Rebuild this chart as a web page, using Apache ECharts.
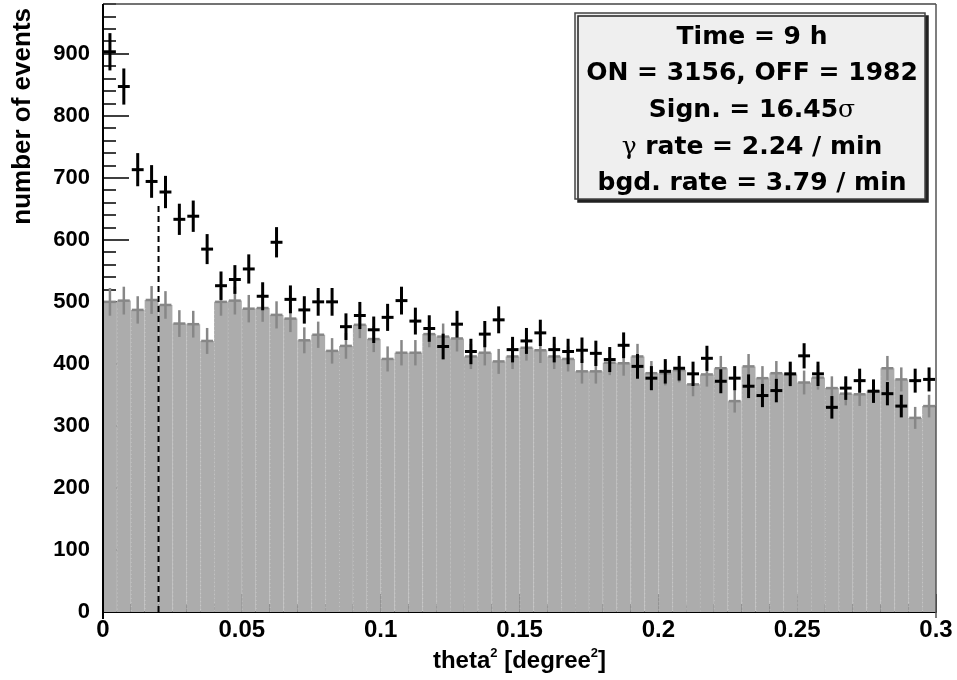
<!DOCTYPE html>
<html>
<head>
<meta charset="utf-8">
<script src="https://cdn.jsdelivr.net/npm/echarts@6/dist/echarts.min.js"></script>
<style>
  html, body { margin: 0; padding: 0; background: #ffffff; }
  #chart { width: 957px; height: 680px; }
</style>
</head>
<body>
<div id="chart"></div>
<script>
// theta^2 binning: 60 bins of 0.005 deg^2 starting at 0
const binWidth = 0.005;
const binStart = 0;

// ON-source event counts per bin
const onCounts = [
  903, 847, 713, 694, 677, 633, 638, 585, 526, 536,
  553, 509, 596, 504, 487, 500, 500, 460, 478, 455,
  475, 502, 469, 457, 428, 464, 420, 448, 471, 423,
  437, 450, 423, 420, 422, 417, 407, 430, 396, 377,
  388, 393, 384, 409, 372, 377, 364, 349, 357, 384,
  413, 384, 330, 361, 373, 356, 352, 332, 373, 375
];

// OFF (background) event counts per bin
const offCounts = [
  500, 502, 487, 503, 495, 465, 464, 437, 500, 502,
  489, 490, 479, 473, 438, 447, 421, 429, 463, 440,
  408, 418, 418, 448, 444, 441, 412, 418, 404, 412,
  426, 422, 412, 408, 388, 388, 402, 401, 412, 385,
  385, 390, 367, 383, 393, 340, 396, 377, 385, 383,
  370, 378, 361, 352, 351, 356, 393, 375, 313, 332
];

// theta^2 cut and the height of its marker line
const cutValue = 0.02;
const cutHeight = 655;

// axis ranges
const xMax = 0.3;
const yMax = 980;

// summary box lines
const infoLines = [
  'Time = 9 h',
  'ON = 3156, OFF = 1982',
  'Sign. = 16.45{sym|σ}',
  '{sym|γ} rate = 2.24 / min',
  'bgd. rate = 3.79 / min'
];

const LABEL_FONT = 'Liberation Sans';
const BOX_FONT = 'DejaVu Sans';

function binRows(counts) {
  return counts.map((c, i) => [
    binStart + i * binWidth,
    binStart + (i + 1) * binWidth,
    c,
    Math.sqrt(c)
  ]);
}

function renderFill(params, api) {
  const top = api.coord([api.value(0), api.value(2)]);
  const bot = api.coord([api.value(1), 0]);
  return {
    type: 'group',
    children: [
      {
        type: 'rect',
        shape: { x: top[0], y: top[1], width: bot[0] - top[0], height: bot[1] - top[1] },
        style: { fill: '#acacac' }
      },
      {
        type: 'line',
        shape: { x1: top[0] + 0.5, y1: top[1] + 8, x2: top[0] + 0.5, y2: bot[1] },
        style: { stroke: 'rgba(255,255,255,0.28)', lineWidth: 1, lineDash: [1, 3] }
      }
    ]
  };
}

function crossRenderer(color, width) {
  return function (params, api) {
    const x0 = api.value(0), x1 = api.value(1), v = api.value(2), e = api.value(3);
    const L = api.coord([x0, v]);
    const R = api.coord([x1, v]);
    const T = api.coord([(x0 + x1) / 2, v + e]);
    const B = api.coord([(x0 + x1) / 2, v - e]);
    return {
      type: 'group',
      children: [
        { type: 'line', shape: { x1: L[0] + 1, y1: L[1], x2: R[0] - 1, y2: R[1] },
          style: { stroke: color, lineWidth: width } },
        { type: 'line', shape: { x1: T[0], y1: T[1], x2: B[0], y2: B[1] },
          style: { stroke: color, lineWidth: width } }
      ]
    };
  };
}

const chart = echarts.init(document.getElementById('chart'), null, { renderer: 'canvas' });

const boxX = 575, boxY = 13, boxW = 350, boxH = 186;
const infoGraphics = infoLines.map((t, i) => ({
  type: 'text',
  x: boxX + boxW / 2 + 2,
  y: 37 + i * 36.7,
  z: 102,
  style: {
    text: t,
    fontFamily: BOX_FONT,
    fontWeight: 'bold',
    fontSize: 25,
    fill: '#000',
    textAlign: 'center',
    textVerticalAlign: 'middle',
    rich: {
      sym: { fontFamily: 'DejaVu Serif', fontWeight: 'normal', fontSize: 25, fill: '#000' }
    }
  }
}));

const tickStyle = { color: '#000', width: 1.5 };

chart.setOption({
  animation: false,
  backgroundColor: '#ffffff',
  grid: { left: 103, right: 21, top: 4, bottom: 62, containLabel: false },
  xAxis: {
    type: 'value',
    min: 0,
    max: xMax,
    interval: 0.05,
    axisLine: { show: true, onZero: false, lineStyle: { color: '#000', width: 2 } },
    axisTick: { show: true, inside: true, length: 18, lineStyle: tickStyle },
    minorTick: { show: true, splitNumber: 5, length: 8, lineStyle: tickStyle },
    splitLine: { show: false },
    axisLabel: {
      color: '#000', fontFamily: LABEL_FONT, fontWeight: 'bold', fontSize: 24, margin: 6,
      formatter: v => String(+v.toFixed(2))
    },
    name: 'theta{sup|2} [degree{sup|2}]',
    nameLocation: 'middle',
    nameGap: 28,
    nameTextStyle: {
      color: '#000', fontFamily: LABEL_FONT, fontWeight: 'bold', fontSize: 24, lineHeight: 28,
      rich: {
        sup: { fontFamily: LABEL_FONT, fontWeight: 'bold', fontSize: 13, lineHeight: 28, verticalAlign: 'top', color: '#000' }
      }
    }
  },
  yAxis: [
    {
      // labelled axis with major ticks every 100
      type: 'value',
      min: 0,
      max: yMax,
      interval: 100,
      axisLine: { show: false },
      axisTick: { show: true, inside: true, length: 26, lineStyle: tickStyle },
      splitLine: { show: false },
      axisLabel: {
        color: '#000', fontFamily: LABEL_FONT, fontWeight: 'bold', fontSize: 22, margin: 13,
        showMaxLabel: false
      }
    },
    {
      // minor ticks every 20
      type: 'value',
      position: 'left',
      min: 0,
      max: yMax,
      interval: 20,
      axisLine: { show: false },
      axisTick: { show: true, inside: true, length: 13, lineStyle: tickStyle },
      axisLabel: { show: false },
      splitLine: { show: false }
    }
  ],
  series: [
    {
      name: 'OFF',
      type: 'custom',
      renderItem: renderFill,
      encode: { x: [0, 1], y: 2 },
      data: binRows(offCounts),
      z: 1
    },
    {
      name: 'OFF errors',
      type: 'custom',
      renderItem: crossRenderer('#878787', 2.5),
      encode: { x: [0, 1], y: 2 },
      data: binRows(offCounts),
      z: 2
    },
    {
      name: 'cut',
      type: 'line',
      data: [[cutValue, 0], [cutValue, cutHeight]],
      symbol: 'none',
      lineStyle: { color: '#000', width: 2, type: [6, 4] },
      z: 3
    },
    {
      name: 'ON',
      type: 'custom',
      renderItem: crossRenderer('#000000', 3),
      encode: { x: [0, 1], y: 2 },
      data: binRows(onCounts),
      z: 4
    }
  ],
  graphic: [
    // plot frame
    { type: 'line', z: 100, shape: { x1: 103, y1: 4, x2: 936, y2: 4 }, style: { stroke: '#444', lineWidth: 1.5 } },
    { type: 'line', z: 100, shape: { x1: 936, y1: 4, x2: 936, y2: 618 }, style: { stroke: '#555', lineWidth: 1.5 } },
    { type: 'line', z: 100, shape: { x1: 103, y1: 4, x2: 103, y2: 619 }, style: { stroke: '#000', lineWidth: 2 } },
    // y axis title
    {
      type: 'text', z: 100, x: 23, y: 8, rotation: Math.PI / 2,
      style: {
        text: 'number of events', fontFamily: LABEL_FONT, fontWeight: 'bold', fontSize: 26,
        fill: '#000', textAlign: 'right', textVerticalAlign: 'middle'
      }
    },
    // summary box
    {
      type: 'rect', z: 101,
      shape: { x: boxX, y: boxY, width: boxW, height: boxH },
      style: {
        fill: '#efefef', stroke: '#444', lineWidth: 1.5,
        shadowColor: '#222', shadowOffsetX: 3, shadowOffsetY: 3, shadowBlur: 0
      }
    }
  ].concat(infoGraphics)
});
</script>
</body>
</html>
